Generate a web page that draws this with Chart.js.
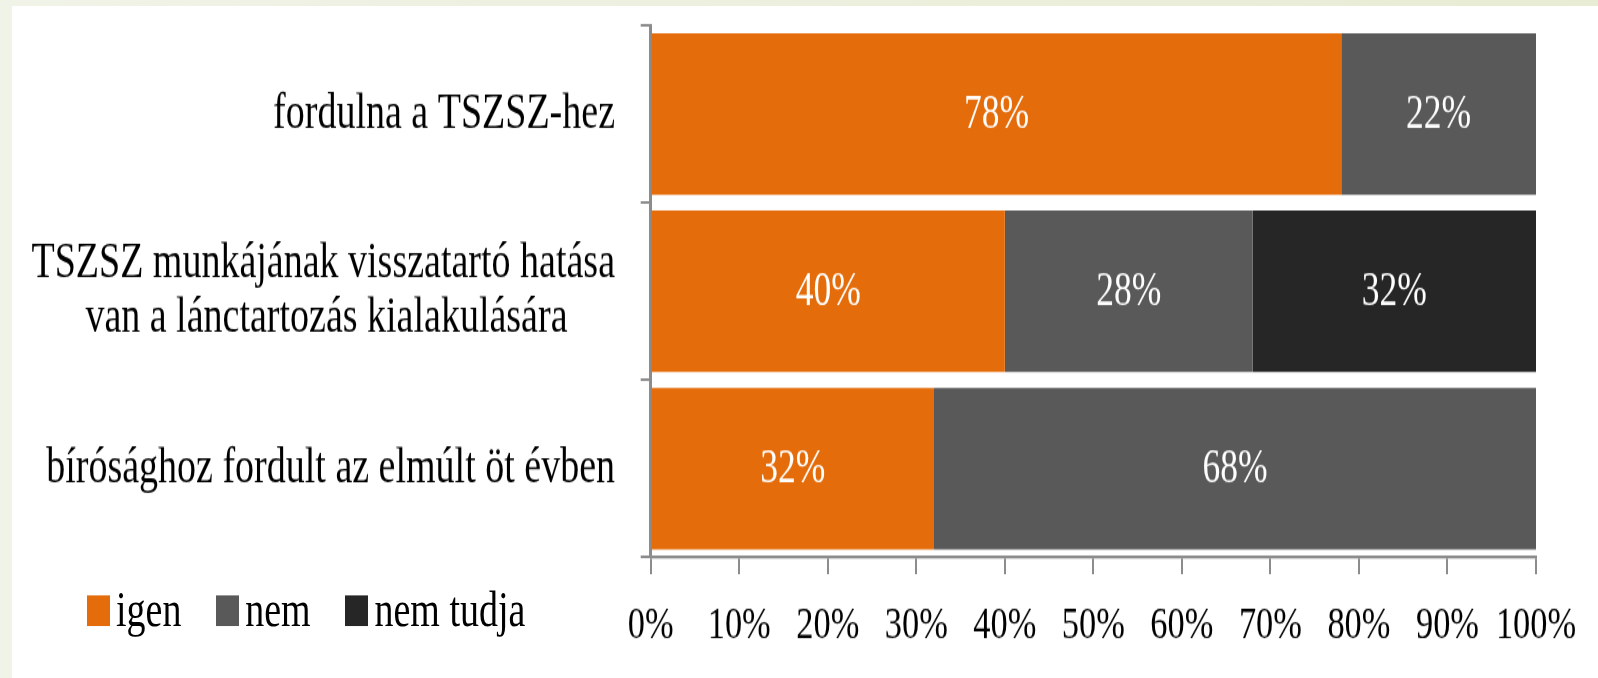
<!DOCTYPE html>
<html>
<head>
<meta charset="utf-8">
<script src="https://cdn.jsdelivr.net/npm/chart.js@4"></script>
<style>
  html, body { margin: 0; padding: 0; }
  body {
    width: 1598px; height: 678px; overflow: hidden; position: relative;
    background: linear-gradient(to right, #f0f3e7, #e8ecd4);
  }
  #panel { position: absolute; left: 12px; top: 6px; right: 0; bottom: 0; background: #fff; }
  /* the original picture is stretched vertically, so the chart is drawn short and scaled up */
  #wrap {
    position: absolute; left: 0; top: 0; width: 1598px; height: 509px;
    transform: scaleY(1.332); transform-origin: 0 0;
  }
  #legend {
    position: absolute; left: 86.7px; top: 438px;
    display: flex; align-items: baseline;
    font: 38px "Liberation Serif"; line-height: 1; color: #000;
  }
  #legend .item { display: flex; align-items: baseline; margin-right: 34.5px; }
  #legend .box { display: inline-block; width: 23px; height: 23.3px; margin-right: 6.3px; }
</style>
</head>
<body>
<div id="panel"></div>
<div id="wrap">
  <canvas id="myChart" width="1598" height="509"></canvas>
  <div id="legend"></div>
</div>
<script>
var categories = [
  'fordulna a TSZSZ-hez',
  ['TSZSZ munkájának visszatartó hatása', 'van a lánctartozás kialakulására'],
  'bírósághoz fordult az elmúlt öt évben'
];
var seriesNames = ['igen', 'nem', 'nem tudja'];
var igenData = [78, 40, 32];
var nemData = [22, 28, 68];
var nemTudjaData = [0, 32, 0];
var seriesColors = ['#E46C0A', '#595959', '#262626'];
var xTickValues = [0, 10, 20, 30, 40, 50, 60, 70, 80, 90, 100];

var axisGrey = '#8c8c8c';
var serif = '"Liberation Serif", "Times New Roman", serif';
var catFont = '38px ' + serif;

// lines of a category label are centred on each other, the block itself is right aligned,
// so the shorter lines get some trailing spaces
var measureCtx = document.createElement('canvas').getContext('2d');
function centerLines(label) {
  if (!Array.isArray(label)) return label;
  measureCtx.font = catFont;
  var widths = label.map(function(l) { return measureCtx.measureText(l).width; });
  var maxW = Math.max.apply(null, widths);
  var sp = measureCtx.measureText(' ').width;
  return label.map(function(l, i) {
    var n = Math.round((maxW - widths[i]) / 2 / sp);
    return n > 0 ? l + ' '.repeat(n) : l;
  });
}

// white percentage labels in the middle of each bar piece
var barLabels = {
  id: 'barLabels',
  afterDatasetsDraw: function(chart) {
    var ctx = chart.ctx;
    ctx.save();
    ctx.font = '35.5px ' + serif;
    ctx.fillStyle = '#ffffff';
    ctx.textAlign = 'center';
    ctx.textBaseline = 'middle';
    chart.data.datasets.forEach(function(ds, i) {
      chart.getDatasetMeta(i).data.forEach(function(bar, j) {
        if (!ds.data[j]) return;
        var p = bar.getCenterPoint();
        ctx.fillText(ds.data[j] + '%', p.x, p.y + 1.3);
      });
    });
    ctx.restore();
  }
};

var ctx = document.getElementById('myChart').getContext('2d');

var myChart = new Chart(ctx, {
  type: 'bar',
  data: {
    labels: categories,
    datasets: [
      { label: seriesNames[0], data: igenData, backgroundColor: seriesColors[0] },
      { label: seriesNames[1], data: nemData, backgroundColor: seriesColors[1] },
      { label: seriesNames[2], data: nemTudjaData, backgroundColor: seriesColors[2] }
    ]
  },
  options: {
    indexAxis: 'y',
    responsive: false,
    animation: false,
    categoryPercentage: 0.91,
    barPercentage: 1,
    layout: { padding: { left: 0, right: 62, top: 19, bottom: 0 } },
    plugins: {
      legend: { display: false },
      tooltip: { enabled: false }
    },
    scales: {
      x: {
        stacked: true,
        min: 0,
        max: 100,
        afterBuildTicks: function(scale) {
          scale.ticks = xTickValues.map(function(v) { return { value: v }; });
        },
        afterFit: function(scale) { scale.height = 509 - 418.4; },
        border: { display: true, color: axisGrey, width: 2.25 },
        grid: { drawOnChartArea: false, drawTicks: true, tickLength: 12.5, color: axisGrey, lineWidth: 2 },
        ticks: {
          padding: 18.5,
          color: '#000',
          font: { family: serif, size: 34.4 },
          maxRotation: 0,
          autoSkip: false,
          callback: function(v) { return v + '%'; }
        }
      },
      y: {
        stacked: true,
        afterFit: function(scale) {
          scale.width = 650.7;
          scale.paddingTop = 0;
          scale.paddingBottom = 0;
        },
        border: { display: true, color: axisGrey, width: 3 },
        grid: { drawOnChartArea: false, drawTicks: true, tickLength: 10, color: axisGrey, lineWidth: 2 },
        ticks: {
          padding: 25.7,
          color: '#000',
          font: { family: serif, size: 38, lineHeight: 1.07 },
          callback: function(v) { return centerLines(categories[v]); }
        }
      }
    }
  },
  plugins: [barLabels]
});

// legend row at the bottom left
var legendEl = document.getElementById('legend');
seriesNames.forEach(function(name, i) {
  var item = document.createElement('span');
  item.className = 'item';
  var box = document.createElement('span');
  box.className = 'box';
  box.style.background = seriesColors[i];
  item.appendChild(box);
  item.appendChild(document.createTextNode(name));
  legendEl.appendChild(item);
});
</script>
</body>
</html>
